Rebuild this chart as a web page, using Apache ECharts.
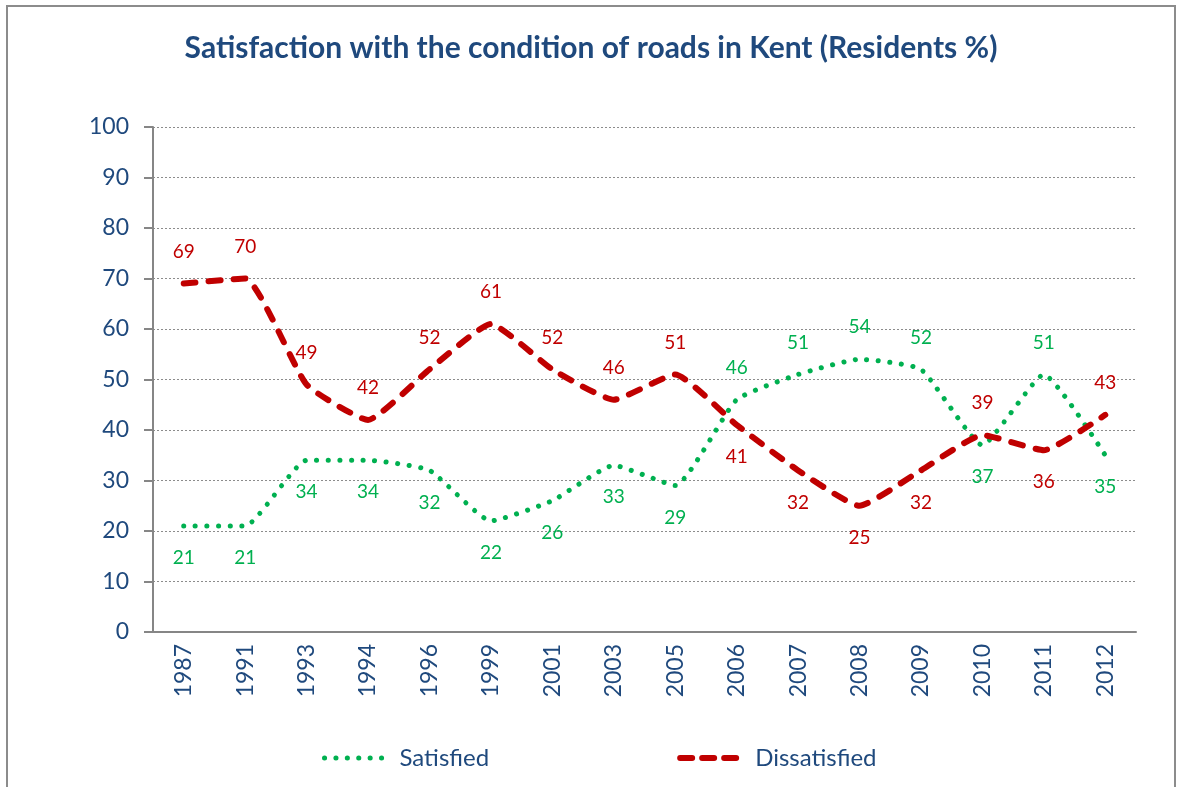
<!DOCTYPE html>
<html>
<head>
<meta charset="utf-8">
<script src="https://cdn.jsdelivr.net/npm/echarts@6/dist/echarts.min.js"></script>
<style>
  html, body { margin: 0; padding: 0; background: #fff; }
  #frame { position: absolute; left: 6px; top: 5px; width: 1170px; height: 800px; border: 2px solid #8c8c8c; box-sizing: border-box; }
  #chart { position: absolute; left: 0; top: 0; width: 1182px; height: 787px; }
</style>
</head>
<body>
<div id="frame"></div>
<div id="chart"></div>
<script>
const years = ['1987', '1991', '1993', '1994', '1996', '1999', '2001', '2003', '2005', '2006', '2007', '2008', '2009', '2010', '2011', '2012'];
const satisfied = [21, 21, 34, 34, 32, 22, 26, 33, 29, 46, 51, 54, 52, 37, 51, 35];
const dissatisfied = [69, 70, 49, 42, 52, 61, 52, 46, 51, 41, 32, 25, 32, 39, 36, 43];
// which labels sit under the point (1) or above it (0)
const satisfiedBelow = [1, 1, 1, 1, 1, 1, 1, 1, 1, 0, 0, 0, 0, 1, 0, 1];
const dissatisfiedBelow = [0, 0, 0, 0, 0, 0, 0, 0, 0, 1, 1, 1, 1, 0, 1, 0];

const FONT = 'Lato, "Open Sans", sans-serif';
const BLUE = '#1F497D';
const GREEN = '#00B050';
const RED = '#C00000';

const greenLine = { color: GREEN, width: 5, type: [0.1, 11.5], cap: 'round' };
const redLine = { color: RED, width: 6, type: [12, 13], cap: 'round' };

function withLabels(values, below) {
    return values.map((v, i) => ({
        value: v,
        label: { position: below[i] ? 'bottom' : 'top' },
    }));
}

const chart = echarts.init(document.getElementById('chart'));

chart.setOption({
    animation: false,
    title: {
        text: 'Satisfaction with the condition of roads in Kent (Residents %)',
        left: 'center',
        top: 28,
        textStyle: { fontFamily: FONT, fontSize: 30, fontWeight: 'bold', color: BLUE },
    },
    legend: {
        top: 741,
        left: 317,
        itemGap: 188,
        itemWidth: 62,
        itemHeight: 10,
        textStyle: { fontFamily: FONT, fontSize: 24, color: BLUE, padding: [0, 0, 0, 8] },
        data: [
            { name: 'Satisfied', lineStyle: { width: 5, type: [0.1, 11.3] } },
            { name: 'Dissatisfied', lineStyle: { width: 6, type: [12, 10] } },
        ],
    },
    grid: { left: 153, right: 46, top: 127, bottom: 155 },
    xAxis: {
        type: 'category',
        data: years,
        boundaryGap: true,
        axisLine: { lineStyle: { color: '#868686', width: 2 } },
        axisTick: { length: 8, lineStyle: { color: '#868686', width: 2 } },
        axisLabel: { rotate: 90, margin: 12, fontFamily: FONT, fontSize: 23, color: BLUE },
    },
    yAxis: {
        type: 'value',
        min: 0,
        max: 100,
        interval: 10,
        axisLine: { show: true, lineStyle: { color: '#868686', width: 2 } },
        axisTick: { show: true, length: 9, lineStyle: { color: '#868686', width: 2 } },
        axisLabel: { margin: 24, fontFamily: FONT, fontSize: 23, color: BLUE },
        splitLine: { lineStyle: { color: '#8c8c8c', width: 1, type: [2, 2] } },
    },
    series: [
        {
            name: 'Satisfied',
            type: 'line',
            smooth: 0.15,
            symbol: 'circle',
            symbolSize: 1,
            showSymbol: true,
            data: withLabels(satisfied, satisfiedBelow),
            lineStyle: greenLine,
            itemStyle: { color: 'rgba(0,0,0,0)' },
            label: { show: true, distance: 22, fontFamily: FONT, fontSize: 19, color: GREEN },
        },
        {
            name: 'Dissatisfied',
            type: 'line',
            smooth: 0.15,
            symbol: 'circle',
            symbolSize: 1,
            showSymbol: true,
            data: withLabels(dissatisfied, dissatisfiedBelow),
            lineStyle: redLine,
            itemStyle: { color: 'rgba(0,0,0,0)' },
            label: { show: true, distance: 22, fontFamily: FONT, fontSize: 19, color: RED },
        },
    ],
});
</script>
</body>
</html>
